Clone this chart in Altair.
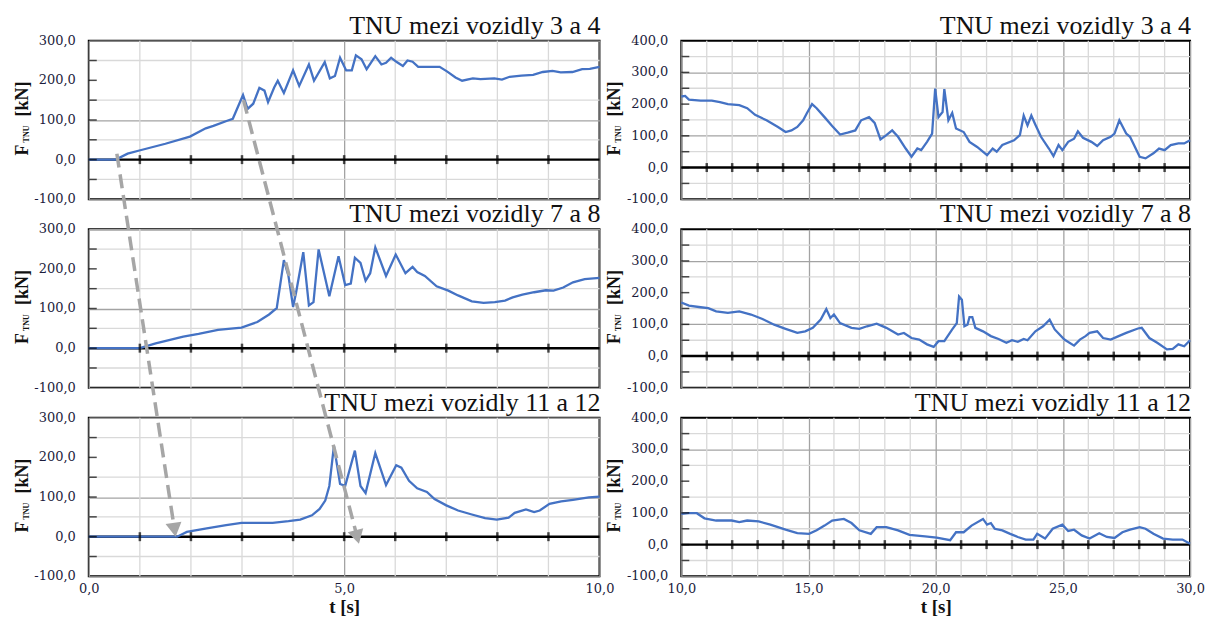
import math
import altair as alt
import pandas as pd

# ---------------- data ----------------
L1_T = [0, 0.53, 0.76, 0.99, 1.5, 1.98, 2.29, 2.44, 2.71, 2.82, 3.02, 3.11, 3.22, 3.34, 3.44,
        3.51, 3.63, 3.7, 3.82, 4.0, 4.12, 4.31, 4.41, 4.62, 4.72, 4.82, 4.92, 5.04, 5.15, 5.23,
        5.34, 5.44, 5.61, 5.73, 5.82, 5.92, 6.03, 6.15, 6.24, 6.34, 6.45, 6.64, 6.87, 7.02, 7.18,
        7.31, 7.52, 7.67, 7.94, 8.09, 8.24, 8.47, 8.7, 8.89, 9.08, 9.24, 9.47, 9.66, 9.81, 10.0]
L1_F = [0, 0, 15, 23, 40, 58, 79, 85, 98, 103, 163, 128, 141, 181, 174,
        145, 182, 199, 168, 225, 186, 240, 199, 246, 205, 211, 257, 225, 225, 263,
        253, 228, 261, 240, 244, 257, 246, 236, 250, 247, 234, 234, 234, 222, 207,
        199, 205, 203, 205, 202, 209, 212, 214, 221, 224, 220, 221, 228, 229, 234]

L2_T = [0, 1.0, 1.31, 1.85, 2.15, 2.53, 2.99, 3.3, 3.53, 3.68, 3.82, 3.91, 4.0, 4.06, 4.2,
        4.31, 4.4, 4.5, 4.71, 4.89, 5.02, 5.13, 5.21, 5.32, 5.42, 5.51, 5.61, 5.82, 6.01, 6.2,
        6.34, 6.43, 6.58, 6.81, 7.04, 7.23, 7.5, 7.73, 7.95, 8.15, 8.3, 8.49, 8.72, 8.95, 9.1,
        9.29, 9.48, 9.71, 10.0]
L2_F = [0, 0, 12, 29, 36, 46, 52, 66, 85, 101, 222, 182, 104, 141, 242,
        108, 116, 249, 131, 232, 159, 163, 228, 215, 170, 189, 254, 182, 236, 189,
        205, 192, 182, 156, 145, 133, 118, 114, 116, 120, 128, 135, 141, 146, 145,
        153, 166, 174, 177]

L3_T = [0, 1.73, 1.92, 2.31, 2.69, 2.99, 3.6, 3.91, 4.14, 4.37, 4.52, 4.63, 4.71, 4.8, 4.92,
        5.02, 5.21, 5.32, 5.42, 5.61, 5.82, 6.02, 6.12, 6.27, 6.43, 6.62, 6.77, 7.0, 7.23, 7.5,
        7.76, 7.99, 8.22, 8.34, 8.56, 8.72, 8.83, 9.02, 9.25, 9.48, 9.79, 10.0]
L3_F = [0, 0, 12, 21, 29, 35, 35, 39, 43, 54, 70, 91, 128, 229, 133,
        128, 217, 128, 110, 211, 130, 180, 174, 141, 122, 113, 95, 79, 66, 56,
        47, 43, 48, 60, 69, 62, 66, 83, 89, 93, 99, 101]

R1_T = [10, 10.15, 10.3, 10.76, 11.2, 11.52, 11.83, 12.28, 12.59, 12.9, 13.35, 13.8, 14.1, 14.33,
        14.56, 14.79, 14.94, 15.14, 15.32, 15.63, 15.93, 16.24, 16.54, 16.84, 17.07, 17.38, 17.6,
        17.83, 18.06, 18.29, 18.52, 18.82, 19.05, 19.28, 19.43, 19.66, 19.86, 19.98, 20.11, 20.27,
        20.34, 20.5, 20.65, 20.8, 21.1, 21.33, 21.63, 22.02, 22.24, 22.4, 22.62, 23.08, 23.31,
        23.46, 23.61, 23.76, 23.92, 24.14, 24.45, 24.63, 24.83, 24.98, 25.21, 25.44, 25.59, 25.79,
        26.12, 26.35, 26.58, 26.88, 27.03, 27.22, 27.49, 27.64, 28.02, 28.25, 28.56, 28.78, 29.0,
        29.24, 29.54, 29.77, 30]
R1_F = [224, 226, 214, 211, 211, 206, 200, 197, 187, 166, 149, 128, 112, 117,
        128, 149, 172, 200, 187, 159, 131, 104, 110, 117, 149, 159, 141,
        89, 102, 117, 97, 60, 34, 60, 55, 81, 107, 249, 159, 175,
        247, 149, 172, 123, 112, 81, 65, 39, 60, 50, 71, 86, 102,
        164, 133, 164, 135, 97, 60, 36, 71, 55, 81, 91, 114, 94,
        81, 68, 86, 97, 107, 149, 107, 97, 34, 29, 45, 60, 55,
        71, 76, 76, 86]

R2_T = [10, 10.3, 10.76, 11.06, 11.37, 11.83, 12.28, 12.74, 13.19, 13.65, 14.1, 14.56, 14.87,
        15.17, 15.48, 15.7, 15.86, 16.0, 16.24, 16.69, 17.0, 17.3, 17.68, 18.06, 18.52, 18.75,
        19.05, 19.35, 19.66, 19.92, 20.11, 20.34, 20.65, 20.83, 20.92, 21.03, 21.13, 21.25, 21.33,
        21.44, 21.56, 21.86, 22.17, 22.47, 22.78, 23.0, 23.23, 23.46, 23.61, 23.92, 24.22, 24.48,
        24.68, 25.06, 25.44, 25.67, 25.89, 26.05, 26.35, 26.58, 26.88, 27.19, 27.49, 27.95, 28.1,
        28.4, 28.71, 29.09, 29.32, 29.54, 29.77, 30]
R2_F = [169, 159, 154, 151, 141, 136, 141, 131, 117, 99, 86, 73, 78,
        89, 115, 148, 120, 131, 104, 89, 86, 94, 102, 89, 68, 73,
        57, 52, 37, 29, 47, 47, 84, 104, 188, 178, 94, 99, 123,
        123, 89, 78, 63, 54, 42, 50, 45, 54, 50, 78, 94, 115,
        84, 52, 33, 52, 63, 73, 78, 57, 52, 63, 73, 87, 89,
        57, 42, 21, 23, 37, 31, 50]

R3_T = [10, 10.3, 10.61, 10.91, 11.37, 11.98, 12.28, 12.59, 13.04, 13.5, 14.1, 14.56, 15.02,
        15.32, 15.63, 15.93, 16.39, 16.69, 17.0, 17.45, 17.68, 18.06, 18.52, 18.97, 19.58, 20.04,
        20.57, 20.8, 21.1, 21.41, 21.86, 22.02, 22.17, 22.32, 22.62, 22.93, 23.23, 23.54, 23.84,
        23.99, 24.3, 24.6, 24.98, 25.21, 25.44, 25.74, 26.05, 26.43, 26.73, 27.03, 27.34, 27.64,
        28.02, 28.25, 28.56, 28.94, 29.32, 29.7, 30]
R3_F = [97, 99, 99, 83, 76, 76, 71, 76, 73, 63, 47, 36, 34,
        45, 60, 76, 81, 68, 45, 34, 55, 55, 45, 31, 26, 22,
        14, 39, 39, 60, 81, 63, 68, 50, 45, 34, 24, 16, 16,
        34, 19, 50, 63, 43, 47, 29, 19, 36, 24, 21, 39, 47,
        55, 50, 34, 19, 16, 16, 3]

TITLES = ["TNU mezi vozidly 3 a 4", "TNU mezi vozidly 7 a 8", "TNU mezi vozidly 11 a 12"]
LEFT_X, RIGHT_X = (0, 10), (10, 30)
LEFT_Y, RIGHT_Y = (-100, 300), (-100, 400)

# dashed arrows: start in the top-left panel, tip in the bottom-left panel
ARROW_T0 = [0.55, 3.03]
ARROW_F0 = [15, 150]      # top-panel units
ARROW_T1 = [1.70, 5.29]
ARROW_F1 = [0, -18]       # bottom-panel units

# ---------------- layout / style ----------------
W_L, W_R, H = 512, 510, 159
ROW_GAP, COL_GAP = 30, 82
SERIF = "Liberation Serif"
LABEL_FONT = "DejaVu Serif"
LABEL_SIZE = 13
LABEL_COLOR = "#1c1c3c"
TEXT_COLOR = "#111111"
BLUE = "#4472C4"
GREY = "#a6a6a6"
MINOR = "#d9d9d9"
MAJOR = "#a3a3a3"

NUM_EXPR = ("(datum.value < 0 ? '-' : '') + "
            "replace(format(abs(datum.value), '.1f'), '.', ',')")


def fmt(v):
    return f"{v:.1f}".replace(".", ",")


def text_layer(text, size, x, y, weight, angle=0, align="left"):
    kw = dict(text=text, align=align, baseline="alphabetic", font=SERIF, fontSize=size,
              fontWeight=weight, color=TEXT_COLOR)
    if angle:
        kw["angle"] = angle
    return (alt.Chart(pd.DataFrame({"k": [0]})).mark_text(**kw)
            .encode(x=alt.value(x), y=alt.value(y)))


def panel(ts, fs, xdom, ydom, title, width, bottom, arrows=False):
    df = pd.DataFrame(list(zip(ts, fs)), columns=["t", "F"])
    xs = alt.Scale(domain=list(xdom), nice=False, zero=False)
    ys = alt.Scale(domain=list(ydom), nice=False, zero=False)
    x_all = list(range(xdom[0], xdom[1] + 1))
    x_major = [v for v in x_all if v % 5 == 0]
    x_minor = [v for v in x_all if v % 5 != 0]
    y_all = list(range(ydom[0], ydom[1] + 1, 50))
    y_major = [v for v in y_all if v % 100 == 0]
    y_minor = [v for v in y_all if v % 100 != 0]

    xkw = dict(values=x_major, grid=True, gridColor=MAJOR, gridWidth=1.3, ticks=False,
               domain=False, labelOverlap=False, labelFlush=False)
    if bottom:
        xkw.update(labels=True, labelExpr=NUM_EXPR, labelFont=LABEL_FONT, labelFontSize=LABEL_SIZE,
                   labelColor=LABEL_COLOR, labelPadding=6, title="t [s]", titleFont=SERIF,
                   titleFontSize=19, titleFontWeight="bold", titleColor=TEXT_COLOR,
                   titlePadding=2)
    else:
        xkw.update(labels=False, title=None)
    xaxis = alt.Axis(**xkw)
    yaxis = alt.Axis(values=y_major, grid=True, gridColor=MAJOR, gridWidth=1.3, ticks=False,
                     domain=False, labels=False, title=None)

    vminor = (alt.Chart(pd.DataFrame({"t": x_minor})).mark_rule(color=MINOR, strokeWidth=1.3)
              .encode(x=alt.X("t:Q", scale=xs, axis=xaxis)))
    hminor = (alt.Chart(pd.DataFrame({"F": y_minor})).mark_rule(color=MINOR, strokeWidth=1.3)
              .encode(y=alt.Y("F:Q", scale=ys, axis=yaxis)))
    ylab = (alt.Chart(pd.DataFrame({"F": y_major, "lab": [fmt(v) for v in y_major]}))
            .mark_text(align="right", baseline="middle", font=LABEL_FONT, fontSize=LABEL_SIZE,
                       color=LABEL_COLOR, clip=False)
            .encode(x=alt.value(-13), y=alt.Y("F:Q", scale=ys), text="lab:N"))
    zero = (alt.Chart(pd.DataFrame({"F": [0]})).mark_rule(color="black", strokeWidth=2.5)
            .encode(y=alt.Y("F:Q", scale=ys)))
    line = (alt.Chart(df).mark_line(color=BLUE, strokeWidth=2.3)
            .encode(x=alt.X("t:Q", scale=xs), y=alt.Y("F:Q", scale=ys)))
    zt = pd.DataFrame({"t": x_all[1:-1], "F": [0] * (len(x_all) - 2)})
    zero_ticks = (alt.Chart(zt).mark_tick(color="black", thickness=2.5, size=9, orient="vertical")
                  .encode(x=alt.X("t:Q", scale=xs), y=alt.Y("F:Q", scale=ys)))
    inner = pd.DataFrame({"t": [xdom[0]] * (len(y_all) - 2), "F": y_all[1:-1]})
    inner_ticks = (alt.Chart(inner)
                   .mark_tick(color="black", thickness=1.5, size=8, orient="horizontal", xOffset=4)
                   .encode(x=alt.X("t:Q", scale=xs), y=alt.Y("F:Q", scale=ys)))

    layers = [vminor, hminor, ylab, zero, line, zero_ticks, inner_ticks,
              text_layer("F", 18, -61, 115, "bold", angle=270),
              text_layer("TNU", 8, -60, 102, "bold", angle=270),
              text_layer("[kN]", 18, -61, 76, "bold", angle=270),
              text_layer(title, 26, width + 1, -7, "normal", align="right")]

    if arrows:
        xspan = xdom[1] - xdom[0]
        yspan = ydom[1] - ydom[0]
        offset = 2 * (H + ROW_GAP) * yspan / H
        rows = []
        for t0, f0, t1, f1 in zip(ARROW_T0, ARROW_F0, ARROW_T1, ARROW_F1):
            f0b = f0 + offset
            dx = (t1 - t0) * width / xspan
            dy = (f0b - f1) * H / yspan
            ln = math.hypot(dx, dy)
            ux, uy = dx / ln, dy / ln
            rows.append({
                "t0": t0, "F0": f0b,
                "t1": t1 - 12 * ux * xspan / width, "F1": f1 + 12 * uy * yspan / H,
                "th": t1 - 7 * ux * xspan / width, "Fh": f1 + 7 * uy * yspan / H,
                "ang": (360 - math.degrees(math.atan2(ux, uy))) % 360,
            })
        adf = pd.DataFrame(rows)
        dash = (alt.Chart(adf).mark_rule(color=GREY, strokeWidth=3.5, strokeDash=[14, 7], clip=False)
                .encode(x=alt.X("t0:Q", scale=xs), x2="t1:Q", y=alt.Y("F0:Q", scale=ys), y2="F1:Q"))
        head = (alt.Chart(adf).mark_point(shape="triangle-down", filled=True, size=260, color=GREY,
                                          opacity=1, clip=False)
                .encode(x=alt.X("th:Q", scale=xs), y=alt.Y("Fh:Q", scale=ys),
                        angle=alt.Angle("ang:Q", scale=None)))
        layers += [dash, head]

    return alt.layer(*layers).properties(width=width, height=H)


cells = [
    panel(L1_T, L1_F, LEFT_X, LEFT_Y, TITLES[0], W_L, False),
    panel(R1_T, R1_F, RIGHT_X, RIGHT_Y, TITLES[0], W_R, False),
    panel(L2_T, L2_F, LEFT_X, LEFT_Y, TITLES[1], W_L, False),
    panel(R2_T, R2_F, RIGHT_X, RIGHT_Y, TITLES[1], W_R, False),
    panel(L3_T, L3_F, LEFT_X, LEFT_Y, TITLES[2], W_L, True, arrows=True),
    panel(R3_T, R3_F, RIGHT_X, RIGHT_Y, TITLES[2], W_R, True),
]

chart = (
    alt.concat(*cells, columns=2, spacing={"row": ROW_GAP, "column": COL_GAP}, bounds="flush")
    .properties(background="white", padding={"left": 13, "top": 11, "right": 5, "bottom": 5})
    .configure_view(stroke="black", strokeWidth=2)
)

chart.save("out.html", embed_options={"renderer": "svg", "actions": False})
